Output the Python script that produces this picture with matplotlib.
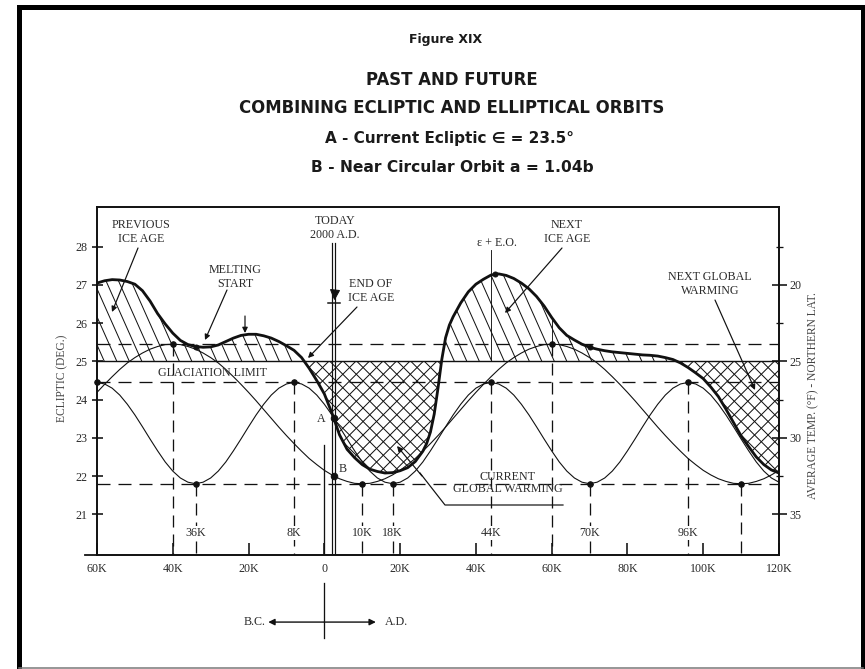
import numpy as np
import matplotlib
matplotlib.use('Agg')
import matplotlib.pyplot as plt
from matplotlib.collections import LineCollection
from matplotlib.path import Path
from matplotlib.lines import Line2D

W, H = 865, 669
plt.rcParams['lines.scale_dashes'] = False
SERIF = ['Liberation Serif', 'DejaVu Serif']
SANS = ['DejaVu Sans']
INK = '#111111'
TXT = '#2b2b2b'

# ---------------- data (thousands of years; negative = B.C.) ----------------
years = list(range(-60, 121, 2))
ecliptic = [24.45, 24.41, 24.30, 24.12, 23.88, 23.60, 23.29, 22.97, 22.66, 22.37, 22.13, 21.95, 21.84, 21.80,
            21.84, 21.95, 22.13, 22.37, 22.66, 22.97, 23.29, 23.60, 23.88, 24.12, 24.30, 24.41, 24.45,
            24.41, 24.30, 24.12, 23.88, 23.60, 23.29, 22.97, 22.66, 22.37, 22.13, 21.95, 21.84, 21.80,
            21.84, 21.95, 22.13, 22.37, 22.66, 22.97, 23.29, 23.60, 23.88, 24.12, 24.30, 24.41, 24.45,
            24.41, 24.30, 24.12, 23.88, 23.60, 23.29, 22.97, 22.66, 22.37, 22.13, 21.95, 21.84, 21.80,
            21.84, 21.95, 22.13, 22.37, 22.66, 22.97, 23.29, 23.60, 23.88, 24.12, 24.30, 24.41, 24.45,
            24.41, 24.30, 24.12, 23.88, 23.60, 23.29, 22.97, 22.66, 22.37, 22.13, 21.95, 21.84]
orbit = [24.19, 24.40, 24.60, 24.79, 24.96, 25.10, 25.22, 25.32, 25.39, 25.44, 25.45,
         25.44, 25.39, 25.32, 25.22, 25.10, 24.96, 24.79, 24.60, 24.40, 24.19, 23.97, 23.74, 23.51,
         23.28, 23.06, 22.85, 22.65, 22.46, 22.30, 22.15, 22.03, 21.93, 21.86, 21.81, 21.80,
         21.81, 21.86, 21.93, 22.03, 22.15, 22.30, 22.46, 22.65, 22.85, 23.06, 23.28, 23.51, 23.74,
         23.97, 24.19, 24.40, 24.60, 24.79, 24.96, 25.10, 25.22, 25.32, 25.39, 25.44, 25.45,
         25.44, 25.39, 25.32, 25.22, 25.10, 24.96, 24.79, 24.60, 24.40, 24.19, 23.97, 23.74, 23.51,
         23.28, 23.06, 22.85, 22.65, 22.46, 22.30, 22.15, 22.03, 21.93, 21.86, 21.81, 21.80,
         21.81, 21.86, 21.93, 22.03, 22.15]
years_comb = list(range(-60, 27, 2)) + [27, 28, 29, 30, 31, 32, 33] + list(range(34, 121, 2))
combined = [27.05, 27.11, 27.14, 27.13, 27.09, 27.02, 26.85, 26.58, 26.25, 25.98,
            25.74, 25.55, 25.44, 25.39, 25.37, 25.38, 25.43, 25.52, 25.61, 25.68,
            25.71, 25.71, 25.67, 25.61, 25.52, 25.41, 25.29, 25.10, 24.82, 24.50,
            24.15, 23.65, 23.08, 22.70, 22.48, 22.30, 22.18, 22.12, 22.08, 22.09,
            22.14, 22.22, 22.38, 22.65,
            22.85, 23.15, 23.62, 24.30, 25.05, 25.62, 25.95,
            26.17, 26.53, 26.82, 27.02, 27.15, 27.26, 27.29, 27.25, 27.17, 27.05,
            26.90, 26.70, 26.45, 26.15, 25.88, 25.68, 25.56, 25.45, 25.37, 25.32,
            25.28, 25.25, 25.23, 25.21, 25.19, 25.17, 25.16, 25.14, 25.10, 25.05,
            24.96, 24.84, 24.70, 24.55, 24.33, 24.08, 23.75, 23.40, 23.05, 22.77,
            22.50, 22.30, 22.16, 22.08]
glaciation_limit = 25.0
ref_levels = [25.45, 24.45, 21.8]
ecl_marks = [-60, -34, -8, 18, 44, 70, 96]
orb_marks = [-40, 10, 60, 110]
comb_marks = [-34, 45, 70]
mark_labels = {-34: '36K', -8: '8K', 10: '10K', 18: '18K', 44: '44K', 70: '70K', 96: '96K'}
xticks = [-60, -40, -20, 0, 20, 40, 60, 80, 100, 120]
xticklabels = ['60K', '40K', '20K', '0', '20K', '40K', '60K', '80K', '100K', '120K']
yticks = [21, 22, 23, 24, 25, 26, 27, 28]
temp_ticks = [20, 25, 30, 35]
temp_minor = [17.5, 22.5, 27.5, 32.5]
today = 2.45

# ---------------- figure ----------------
fig = plt.figure(figsize=(W / 72, H / 72), dpi=72)
fig.patch.set_facecolor('white')
ax = fig.add_axes([97 / W, 1 - 555 / H, 682 / W, 348 / H])
Y0, Y1 = 19.935, 29.04
ax.set_xlim(-60, 120)
ax.set_ylim(Y0, Y1)
ax.autoscale(False)


def e2t(e):
    return 25 - 2.5 * (e - 25)


def hatch_region(x, y, base, above, angles, spacing_px, lw=1.0):
    x = np.asarray(x, float)
    y = np.asarray(y, float)
    where = (y >= base) if above else (y <= base)
    coll = ax.fill_between(x, y, base, where=where, interpolate=True,
                           facecolor='none', edgecolor='none', linewidth=0, zorder=1)
    clip = Path.make_compound_path(*coll.get_paths())
    sx = ax.transData.transform((1, 0))[0] - ax.transData.transform((0, 0))[0]
    sy = ax.transData.transform((0, 1))[1] - ax.transData.transform((0, 0))[1]
    hpx = (Y1 - Y0) * sy
    for a in angles:
        dxd = hpx / np.tan(np.radians(a)) / sx
        start = min(-60, -60 - dxd) - 5
        stop = max(120, 120 - dxd) + 5
        xs = np.arange(start, stop, spacing_px / sx)
        segs = [[(xb, Y0), (xb + dxd, Y1)] for xb in xs]
        lc = LineCollection(segs, colors=INK, linewidths=lw, zorder=1)
        ax.add_collection(lc, autolim=False)
        lc.set_clip_path(clip, ax.transData)


hatch_region(years_comb, combined, glaciation_limit, True, [114], 12.5)
hatch_region(years_comb, combined, glaciation_limit, False, [45, 135], 13.5)

# reference lines
ax.axhline(glaciation_limit, color=INK, lw=1.4, zorder=2)
for lv in ref_levels:
    ax.axhline(lv, color=INK, lw=1.3, ls=(0, (13, 8)), zorder=2)

# curves
ax.plot(years, ecliptic, color=INK, lw=1.1, zorder=3)
ax.plot(years, orbit, color=INK, lw=1.1, zorder=3)
ax.plot(years_comb, combined, color=INK, lw=2.8, zorder=4, solid_capstyle='round')

# vertical dashed markers
for t in ecl_marks[1:]:
    v = np.interp(t, years, ecliptic)
    ax.plot([t, t], [v, Y0], color=INK, lw=1.3, ls=(0, (12, 7)), zorder=2)
for t in orb_marks:
    v = np.interp(t, years, orbit)
    ax.plot([t, t], [v, Y0], color=INK, lw=1.3, ls=(0, (12, 7)), zorder=2)
for t, s in mark_labels.items():
    ax.annotate(s, xy=(t, H - 533), xycoords=('data', 'figure pixels'), ha='center', va='center',
                fontsize=12, family=SERIF, color=TXT, zorder=6,
                bbox=dict(fc='white', ec='none', pad=1.0))

# dots
for t in ecl_marks:
    ax.plot(t, np.interp(t, years, ecliptic), 'o', ms=5.5, color=INK, zorder=5, clip_on=False)
for t in orb_marks:
    ax.plot(t, np.interp(t, years, orbit), 'o', ms=5.5, color=INK, zorder=5)
for t in comb_marks:
    ax.plot(t, np.interp(t, years_comb, combined), 'o', ms=5, color=INK, zorder=5)
ax.plot(today, np.interp(today, years, ecliptic), 'o', ms=6.5, color=INK, zorder=5)
ax.plot(today, np.interp(today, years, orbit), 'o', ms=6.5, color=INK, zorder=5)

# thin solid verticals from combined peaks
ax.plot([44, 44], [27.92, glaciation_limit], color=INK, lw=0.9, zorder=2)
ax.plot([60, 60], [np.interp(60, years_comb, combined), 25.45], color=INK, lw=0.9, zorder=2)

# today double line and markers
for dx in (-0.45, 0.45):
    ax.plot([today + dx, today + dx], [28.1, Y0], color=INK, lw=1.2, zorder=4)
ax.plot(today, 26.77, marker='v', ms=9, color=INK, zorder=5)
ax.plot([today - 1.6, today + 1.6], [26.53, 26.53], color=INK, lw=1.5, zorder=5)

# BC/AD divider
ax.plot([0, 0], [22.8, Y0], color=INK, lw=1.3, zorder=2)
ax.plot([0, 0], [19.2, 17.76], color=INK, lw=1.3, clip_on=False)
ax.annotate('', xy=(-14.8, 18.18), xytext=(0, 18.18), annotation_clip=False,
            arrowprops=dict(arrowstyle='-|>', lw=1.4, color=INK, mutation_scale=13, shrinkA=0, shrinkB=0))
ax.annotate('', xy=(13.6, 18.18), xytext=(0, 18.18), annotation_clip=False,
            arrowprops=dict(arrowstyle='-|>', lw=1.4, color=INK, mutation_scale=13, shrinkA=0, shrinkB=0))
ax.plot([-63.2, -60], [Y0, Y0], color=INK, lw=1.8, clip_on=False)

# ---------------- axes styling ----------------
for sp in ax.spines.values():
    sp.set_linewidth(1.7)
    sp.set_color(INK)
ax.set_xticks(xticks)
ax.set_xticklabels(xticklabels, family=SERIF, fontsize=12, color=TXT)
ax.tick_params(axis='x', direction='in', length=12, width=1.6, pad=8, colors=INK, labelcolor=TXT)
ax.set_yticks(yticks)
ax.set_yticklabels([str(v) for v in yticks], family=SERIF, fontsize=12, color=TXT)
ax.tick_params(axis='y', direction='inout', length=11, width=1.6, pad=4, right=False,
               colors=INK, labelcolor=TXT)

ax2 = ax.twinx()
ax2.set_ylim(e2t(Y0), e2t(Y1))
ax2.set_yticks(temp_ticks)
ax2.set_yticks(temp_minor, minor=True)
ax2.set_yticklabels([str(v) for v in temp_ticks], family=SERIF, fontsize=12, color=TXT)
ax2.tick_params(axis='y', which='major', direction='inout', length=15, width=1.6, pad=3,
                colors=INK, labelcolor=TXT)
ax2.tick_params(axis='y', which='minor', direction='inout', length=7, width=1.3, colors=INK)
for sp in ax2.spines.values():
    sp.set_linewidth(1.7)
    sp.set_color(INK)


# ---------------- text ----------------
def label(px, py, s, size=12, family=SERIF, **kw):
    ax.annotate(s, xy=(px, H - py), xycoords='figure pixels', ha='center', va='center',
                fontsize=size, family=family, color=TXT, annotation_clip=False, zorder=7, **kw)


def pointer(p_from, p_to):
    ax.annotate('', xy=(p_to[0], H - p_to[1]), xycoords='figure pixels',
                xytext=(p_from[0], H - p_from[1]), textcoords='figure pixels', annotation_clip=False,
                arrowprops=dict(arrowstyle='-|>', lw=1.2, color=INK, mutation_scale=11,
                                shrinkA=0, shrinkB=0))


label(141, 232, 'PREVIOUS\nICE AGE', linespacing=1.15)
label(235, 277, 'MELTING\nSTART', linespacing=1.15)
label(335, 228, 'TODAY\n2000 A.D.', linespacing=1.15)
label(371, 291, 'END OF\nICE AGE', linespacing=1.15)
label(497, 243, 'ε + E.O.')
label(567, 232, 'NEXT\nICE AGE', linespacing=1.15)
label(710, 284, 'NEXT GLOBAL\nWARMING', linespacing=1.15)
label(212, 373, 'GLACIATION LIMIT')
label(508, 483, 'CURRENT\nGLOBAL WARMING', linespacing=1.0)
label(321, 419, 'A')
label(343, 469, 'B')
label(255, 622, 'B.C.')
label(396, 622, 'A.D.')

pointer((138, 248), (112, 312))
pointer((227, 290), (205, 340))
pointer((357, 307), (308, 358))
pointer((562, 248), (505, 313))
pointer((715, 300), (755, 390))
pointer((245, 316), (245, 333))
fig.add_artist(Line2D([563, 445, 420], [H - 505, H - 505, H - 473], transform=None,
                      color=INK, lw=1.2))
pointer((422, 476), (397, 446))

fig.text(62 / W, 1 - 378 / H, 'ECLIPTIC (DEG.)', rotation=90, ha='center', va='center',
         fontsize=11.5, family=SERIF, color='#444444')
fig.text(813 / W, 1 - 396 / H, 'AVERAGE TEMP. (°F) - NORTHERN LAT.', rotation=90, ha='center',
         va='center', fontsize=11.5, family=SERIF, color='#444444')

title_lines = [(40, 446, 'Figure XIX', 12.5), (80, 452, 'PAST AND FUTURE', 16.5),
               (108, 452, 'COMBINING ECLIPTIC AND ELLIPTICAL ORBITS', 16.5),
               (139, 450, 'A - Current Ecliptic ∈ = 23.5°', 15.2),
               (167, 452, 'B - Near Circular Orbit a = 1.04b', 15.5)]
for py, px, s, fs in title_lines:
    fig.text(px / W, 1 - py / H, s, ha='center', va='center', fontsize=fs, family=SANS,
             fontweight='bold', color='#1a1a1a')

# outer frame
fig.add_artist(Line2D([18.5, 18.5, 862.5, 862.5], [H - 668, H - 6.5, H - 6.5, H - 668],
                      transform=None, color='black', lw=5, solid_joinstyle='miter'))
fig.add_artist(Line2D([18.5, 862.5], [1.2, 1.2], transform=None, color='#777777', lw=1.5))

fig.savefig('out.png', dpi=72)
